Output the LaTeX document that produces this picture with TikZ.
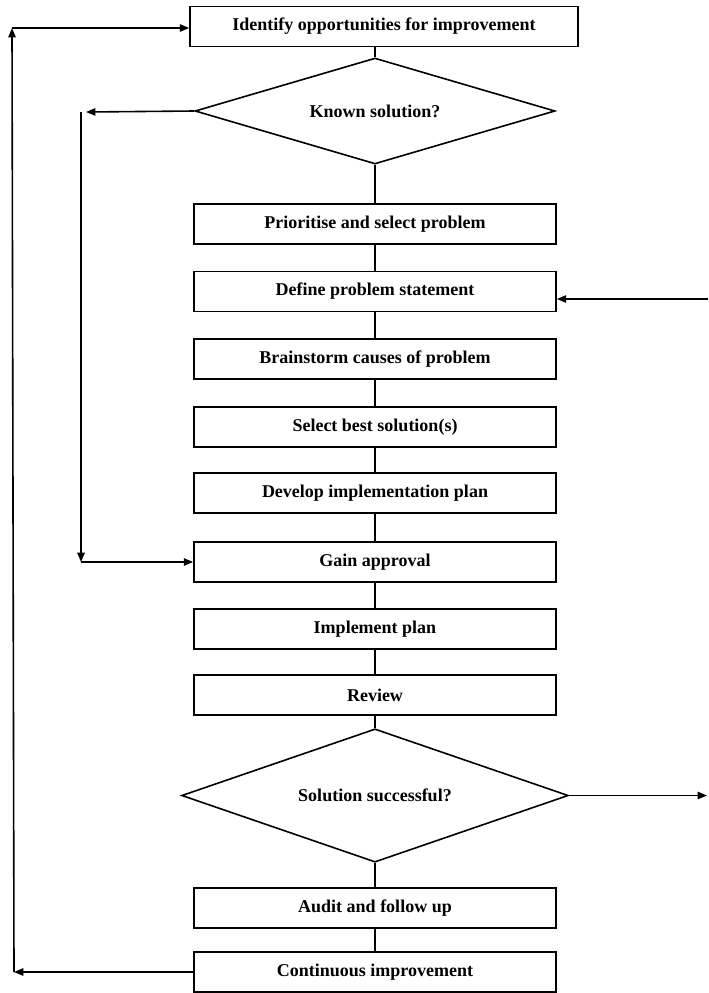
\documentclass[tikz,border=0pt]{standalone}
\usepackage{fontspec}
\setmainfont{Liberation Serif}
\usetikzlibrary{shapes.geometric,arrows.meta}
\begin{document}
\begin{tikzpicture}[x=0.75pt,y=-0.75pt,
  every node/.style={font=\bfseries\fontsize{13.5}{16}\selectfont},
  stepbox/.style={draw, line width=1.2pt, minimum width=271.5pt, minimum height=30pt, inner sep=0pt},
  decision/.style={draw, diamond, line width=1.2pt, inner sep=0pt},
  link/.style={line width=1.2pt},
  flow/.style={line width=1.2pt, -{Triangle[length=7pt,width=5.5pt]}},
]
\useasboundingbox (0,0) rectangle (708,993);
\clip (0,0) rectangle (708,993);

% main column
\node[stepbox, minimum width=291pt] (identify) at (384,26.5) {Identify opportunities for improvement};
\node[decision, shape aspect=3.4, minimum width=270pt, minimum height=79.5pt] (known) at (375,111) {Known solution?};
\node[stepbox] (prioritise) at (375,224) {Prioritise and select problem};
\node[stepbox] (define) at (375,291.5) {Define problem statement};
\node[stepbox] (brainstorm) at (375,359) {Brainstorm causes of problem};
\node[stepbox] (select) at (375,427) {Select best solution(s)};
\node[stepbox] (develop) at (375,493) {Develop implementation plan};
\node[stepbox] (gain) at (375,562) {Gain approval};
\node[stepbox] (implement) at (375,629) {Implement plan};
\node[stepbox] (review) at (375,695) {Review};
\node[decision, shape aspect=2.9, minimum width=290pt, minimum height=100pt] (success) at (375,795.5) {Solution successful?};
\node[stepbox] (audit) at (375,908) {Audit and follow up};
\node[stepbox] (continuous) at (375,972) {Continuous improvement};

% vertical links down the column
\draw[link] (identify.south -| known.north) -- (known.north);
\draw[link] (known.south) -- (prioritise.north);
\draw[link] (prioritise) -- (define);
\draw[link] (define) -- (brainstorm);
\draw[link] (brainstorm) -- (select);
\draw[link] (select) -- (develop);
\draw[link] (develop) -- (gain);
\draw[link] (gain) -- (implement);
\draw[link] (implement) -- (review);
\draw[link] (review.south) -- (success.north);
\draw[link] (success.south) -- (audit.north);
\draw[link] (audit) -- (continuous);

% outer feedback loop
\coordinate (ob) at (14,972);
\coordinate (ot) at (12,28);
\draw[flow] (continuous.west) -- (ob);
\draw[flow] (ob) -- (ot);
\draw[flow] (ot) -- (identify.west |- ot);

% known-solution bypass
\coordinate (kl) at (86,112);
\coordinate (it) at (81,112);
\coordinate (ib) at (81,562);
\draw[flow] (known.west) -- (kl);
\draw[flow] (it) -- (ib);
\draw[flow] (ib) -- (gain.west);

% unsuccessful solution returns to problem definition
\coordinate (re) at (707,795.5);
\coordinate (rt) at (708,299);
\draw[flow] (success.east) -- (re);
\draw[flow] (rt) -- (define.east |- rt);
\end{tikzpicture}
\end{document}
